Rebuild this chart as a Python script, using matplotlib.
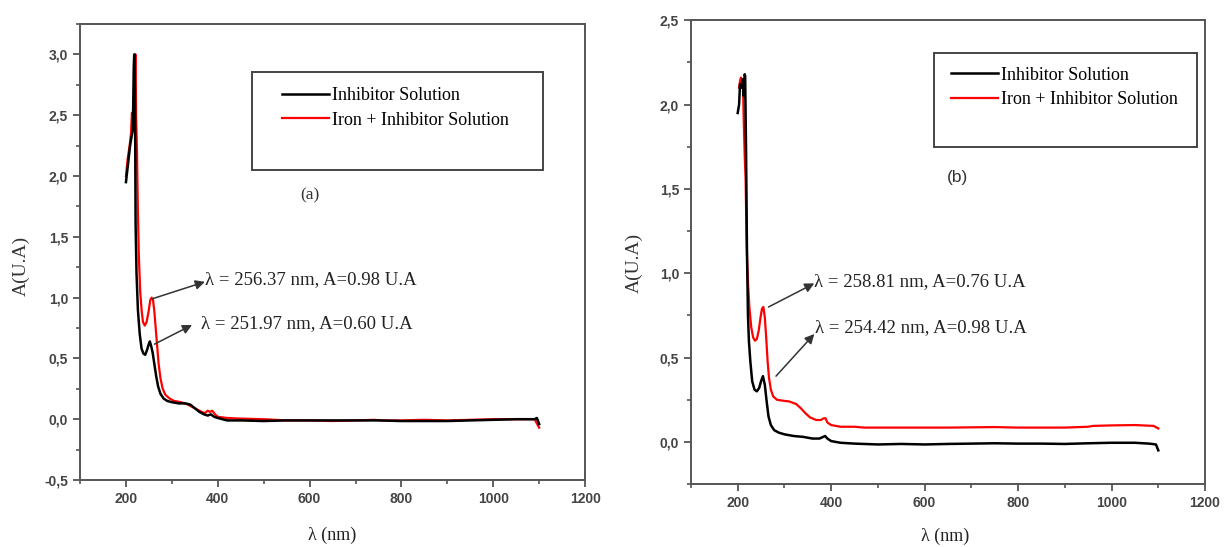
import matplotlib.pyplot as plt
import numpy as np
from matplotlib.patches import Rectangle
from matplotlib.ticker import MultipleLocator, FuncFormatter

# ---- panel (a) ----
wl_a_inh = [200, 203, 206, 209, 212, 215, 217, 218, 219, 220, 221, 223, 226, 230, 234, 238,
            242, 246, 249, 252, 255, 258, 262, 266, 270, 275, 282, 290, 300, 315, 330, 340,
            350, 360, 370, 378, 385, 392, 400, 420, 450, 500, 550, 600, 650, 700, 750, 800,
            850, 900, 950, 1000, 1050, 1080, 1090, 1095, 1100]
abs_a_inh = [1.95, 2.05, 2.15, 2.25, 2.32, 2.38, 2.9, 3.0, 3.0, 2.4, 1.6, 1.2, 0.9, 0.7, 0.58, 0.54,
             0.53, 0.57, 0.61, 0.64, 0.6, 0.55, 0.45, 0.35, 0.27, 0.21, 0.17, 0.15, 0.14, 0.13, 0.13, 0.12,
             0.09, 0.06, 0.04, 0.03, 0.04, 0.02, 0.01, -0.01, -0.01, -0.015, -0.01, -0.01, -0.01, -0.01, -0.01, -0.015,
             -0.015, -0.015, -0.01, -0.005, 0.0, 0.0, 0.0, 0.01, -0.04]

wl_a_fe = [200, 204, 208, 211, 213, 215, 217, 219, 220, 221, 222, 224, 226, 228, 231, 234,
           237, 241, 245, 249, 253, 256, 259, 262, 265, 268, 271, 275, 280, 286, 295, 305,
           320, 335, 345, 355, 365, 372, 378, 383, 388, 394, 400, 420, 450, 500, 550, 600,
           650, 700, 740, 760, 800, 850, 900, 950, 1000, 1050, 1090, 1100]
abs_a_fe = [2.0, 2.15, 2.25, 2.35, 2.52, 2.45, 2.42, 2.6, 3.0, 3.0, 2.5, 2.2, 1.7, 1.35, 1.05, 0.9,
            0.8, 0.77, 0.8, 0.88, 0.98, 1.0, 0.98, 0.88, 0.74, 0.6, 0.46, 0.34, 0.25, 0.2, 0.17, 0.15,
            0.14, 0.12, 0.1, 0.08, 0.06, 0.05, 0.07, 0.06, 0.07, 0.04, 0.02, 0.01, 0.005, 0.0, -0.01, -0.01,
            -0.015, -0.01, -0.005, -0.01, -0.01, -0.005, -0.01, -0.005, 0.0, 0.0, 0.0, -0.07]

# ---- panel (b) ----
wl_b_inh = [200, 203, 205, 208, 211, 213, 215, 216, 218, 220, 222, 224, 227, 231, 236, 241,
            246, 250, 254, 258, 262, 266, 271, 278, 288, 300, 320, 340, 360, 375, 383, 387,
            392, 400, 420, 450, 500, 550, 600, 650, 700, 750, 800, 850, 900, 950, 1000, 1050,
            1080, 1095, 1100]
abs_b_inh = [1.95, 2.0, 2.12, 2.1, 2.15, 2.05, 2.18, 2.17, 1.7, 1.1, 0.75, 0.6, 0.48, 0.36, 0.31, 0.3,
             0.32, 0.36, 0.39, 0.34, 0.24, 0.15, 0.1, 0.07, 0.055, 0.045, 0.035, 0.03, 0.02, 0.02, 0.03, 0.035,
             0.02, 0.005, -0.005, -0.01, -0.015, -0.012, -0.015, -0.012, -0.01, -0.008, -0.01, -0.01, -0.012, -0.008, -0.005, -0.005,
             -0.01, -0.015, -0.05]

wl_b_fe = [203, 205, 207, 209, 211, 213, 215, 217, 219, 220, 222, 225, 229, 233, 237, 241,
           245, 249, 252, 255, 258, 261, 264, 267, 271, 276, 284, 295, 310, 325, 335, 345,
           355, 368, 378, 384, 388, 392, 400, 420, 450, 470, 550, 650, 750, 800, 900, 950,
           960, 1000, 1050, 1090, 1100]
abs_b_fe = [2.1, 2.14, 2.16, 2.12, 2.15, 1.9, 1.7, 1.55, 1.2, 1.1, 0.95, 0.8, 0.68, 0.62, 0.6, 0.61,
            0.66, 0.74, 0.79, 0.8, 0.74, 0.62, 0.48, 0.38, 0.31, 0.27, 0.25, 0.245, 0.24, 0.225, 0.2, 0.17,
            0.145, 0.13, 0.13, 0.14, 0.14, 0.115, 0.1, 0.09, 0.09, 0.085, 0.085, 0.085, 0.088, 0.085, 0.085, 0.09,
            0.095, 0.098, 0.1, 0.095, 0.08]

labels = ['Inhibitor Solution', 'Iron + Inhibitor Solution']
notes_a = ['λ = 256.37 nm, A=0.98 U.A', 'λ = 251.97 nm, A=0.60 U.A']
notes_b = ['λ = 258.81 nm, A=0.76 U.A', 'λ = 254.42 nm, A=0.98 U.A']

serif = ['Liberation Serif', 'DejaVu Serif']
sans = ['Liberation Sans', 'DejaVu Sans']
grey = '#444444'

fig = plt.figure(figsize=(12.24, 5.47), dpi=100)
ax1 = fig.add_axes([0.0654, 0.1225, 0.4126, 0.8335])
ax2 = fig.add_axes([0.5645, 0.115, 0.42, 0.848])

arrow = dict(arrowstyle='-|>', color='#333333', lw=1.1, mutation_scale=14, shrinkA=0, shrinkB=0)


def style_axes(ax, ylim, ylab_xy, xlab_xy):
    ax.set_xlim(100, 1200)
    ax.set_ylim(*ylim)
    ax.xaxis.set_major_locator(MultipleLocator(200))
    ax.xaxis.set_minor_locator(MultipleLocator(100))
    ax.yaxis.set_major_locator(MultipleLocator(0.5))
    ax.yaxis.set_minor_locator(MultipleLocator(0.25))
    ax.yaxis.set_major_formatter(FuncFormatter(lambda v, p: f'{v:.1f}'.replace('.', ',')))
    ax.tick_params(which='major', direction='out', length=5, width=1.3, color='#555555',
                   labelsize=10, labelcolor=grey)
    ax.tick_params(which='minor', direction='out', length=3, width=1.2, color='#555555')
    for lab in ax.get_xticklabels() + ax.get_yticklabels():
        lab.set_family(sans)
        lab.set_fontweight('bold')
    for s in ax.spines.values():
        s.set_color('#555555')
        s.set_linewidth(1.4)
    ax.set_ylabel('A(U.A)', family=serif, fontsize=14, color='#333333')
    ax.set_xlabel('λ (nm)', family=serif, fontsize=13, color='#222222')
    ax.yaxis.set_label_coords(*ylab_xy)
    ax.xaxis.set_label_coords(*xlab_xy)


def legend_in_box(ax, box, anchor):
    ax.add_patch(Rectangle(box[:2], box[2], box[3], transform=ax.transAxes, fill=False,
                           edgecolor='#444444', linewidth=1.4, zorder=3))
    h, l = ax.get_legend_handles_labels()
    ax.legend(h[::-1], l[::-1], loc='upper left', bbox_to_anchor=anchor, frameon=False,
              borderpad=0, borderaxespad=0, handlelength=2.6, handletextpad=0.15,
              labelspacing=0.42, prop={'family': serif, 'size': 13})


# panel (a)
ax1.plot(wl_a_fe, abs_a_fe, color='#ff0000', lw=1.6, label=labels[1])
ax1.plot(wl_a_inh, abs_a_inh, color='black', lw=1.8, label=labels[0])
style_axes(ax1, (-0.5, 3.25), (-0.099, 0.47), (0.5, -0.103))
legend_in_box(ax1, (0.34, 0.68, 0.576, 0.215), (0.4, 0.862))
ax1.text(600, 1.84, '(a)', family=serif, fontsize=12.5, color='#333333', ha='center', va='center')
ax1.text(373, 1.15, notes_a[0], family=serif, fontsize=13.5, color='#222222', va='center')
ax1.text(363, 0.79, notes_a[1], family=serif, fontsize=13.5, color='#222222', va='center')
ax1.annotate('', xy=(372, 1.13), xytext=(257, 0.99), arrowprops=arrow)
ax1.annotate('', xy=(344, 0.775), xytext=(262, 0.617), arrowprops=arrow)

# panel (b)
ax2.plot(wl_b_fe, abs_b_fe, color='#ff0000', lw=1.6, label=labels[1])
ax2.plot(wl_b_inh, abs_b_inh, color='black', lw=1.8, label=labels[0])
style_axes(ax2, (-0.25, 2.5), (-0.093, 0.476), (0.494, -0.093))
legend_in_box(ax2, (0.472, 0.726, 0.513, 0.203), (0.506, 0.9))
ax2.text(670, 1.57, '(b)', family=sans, fontsize=12.5, color='#333333', ha='center', va='center')
ax2.text(364, 0.95, notes_b[0], family=serif, fontsize=13.5, color='#222222', va='center')
ax2.text(366, 0.68, notes_b[1], family=serif, fontsize=13.5, color='#222222', va='center')
ax2.annotate('', xy=(364, 0.94), xytext=(266, 0.80), arrowprops=arrow)
ax2.annotate('', xy=(364, 0.64), xytext=(282, 0.39), arrowprops=arrow)

fig.savefig('out.png', dpi=100)
